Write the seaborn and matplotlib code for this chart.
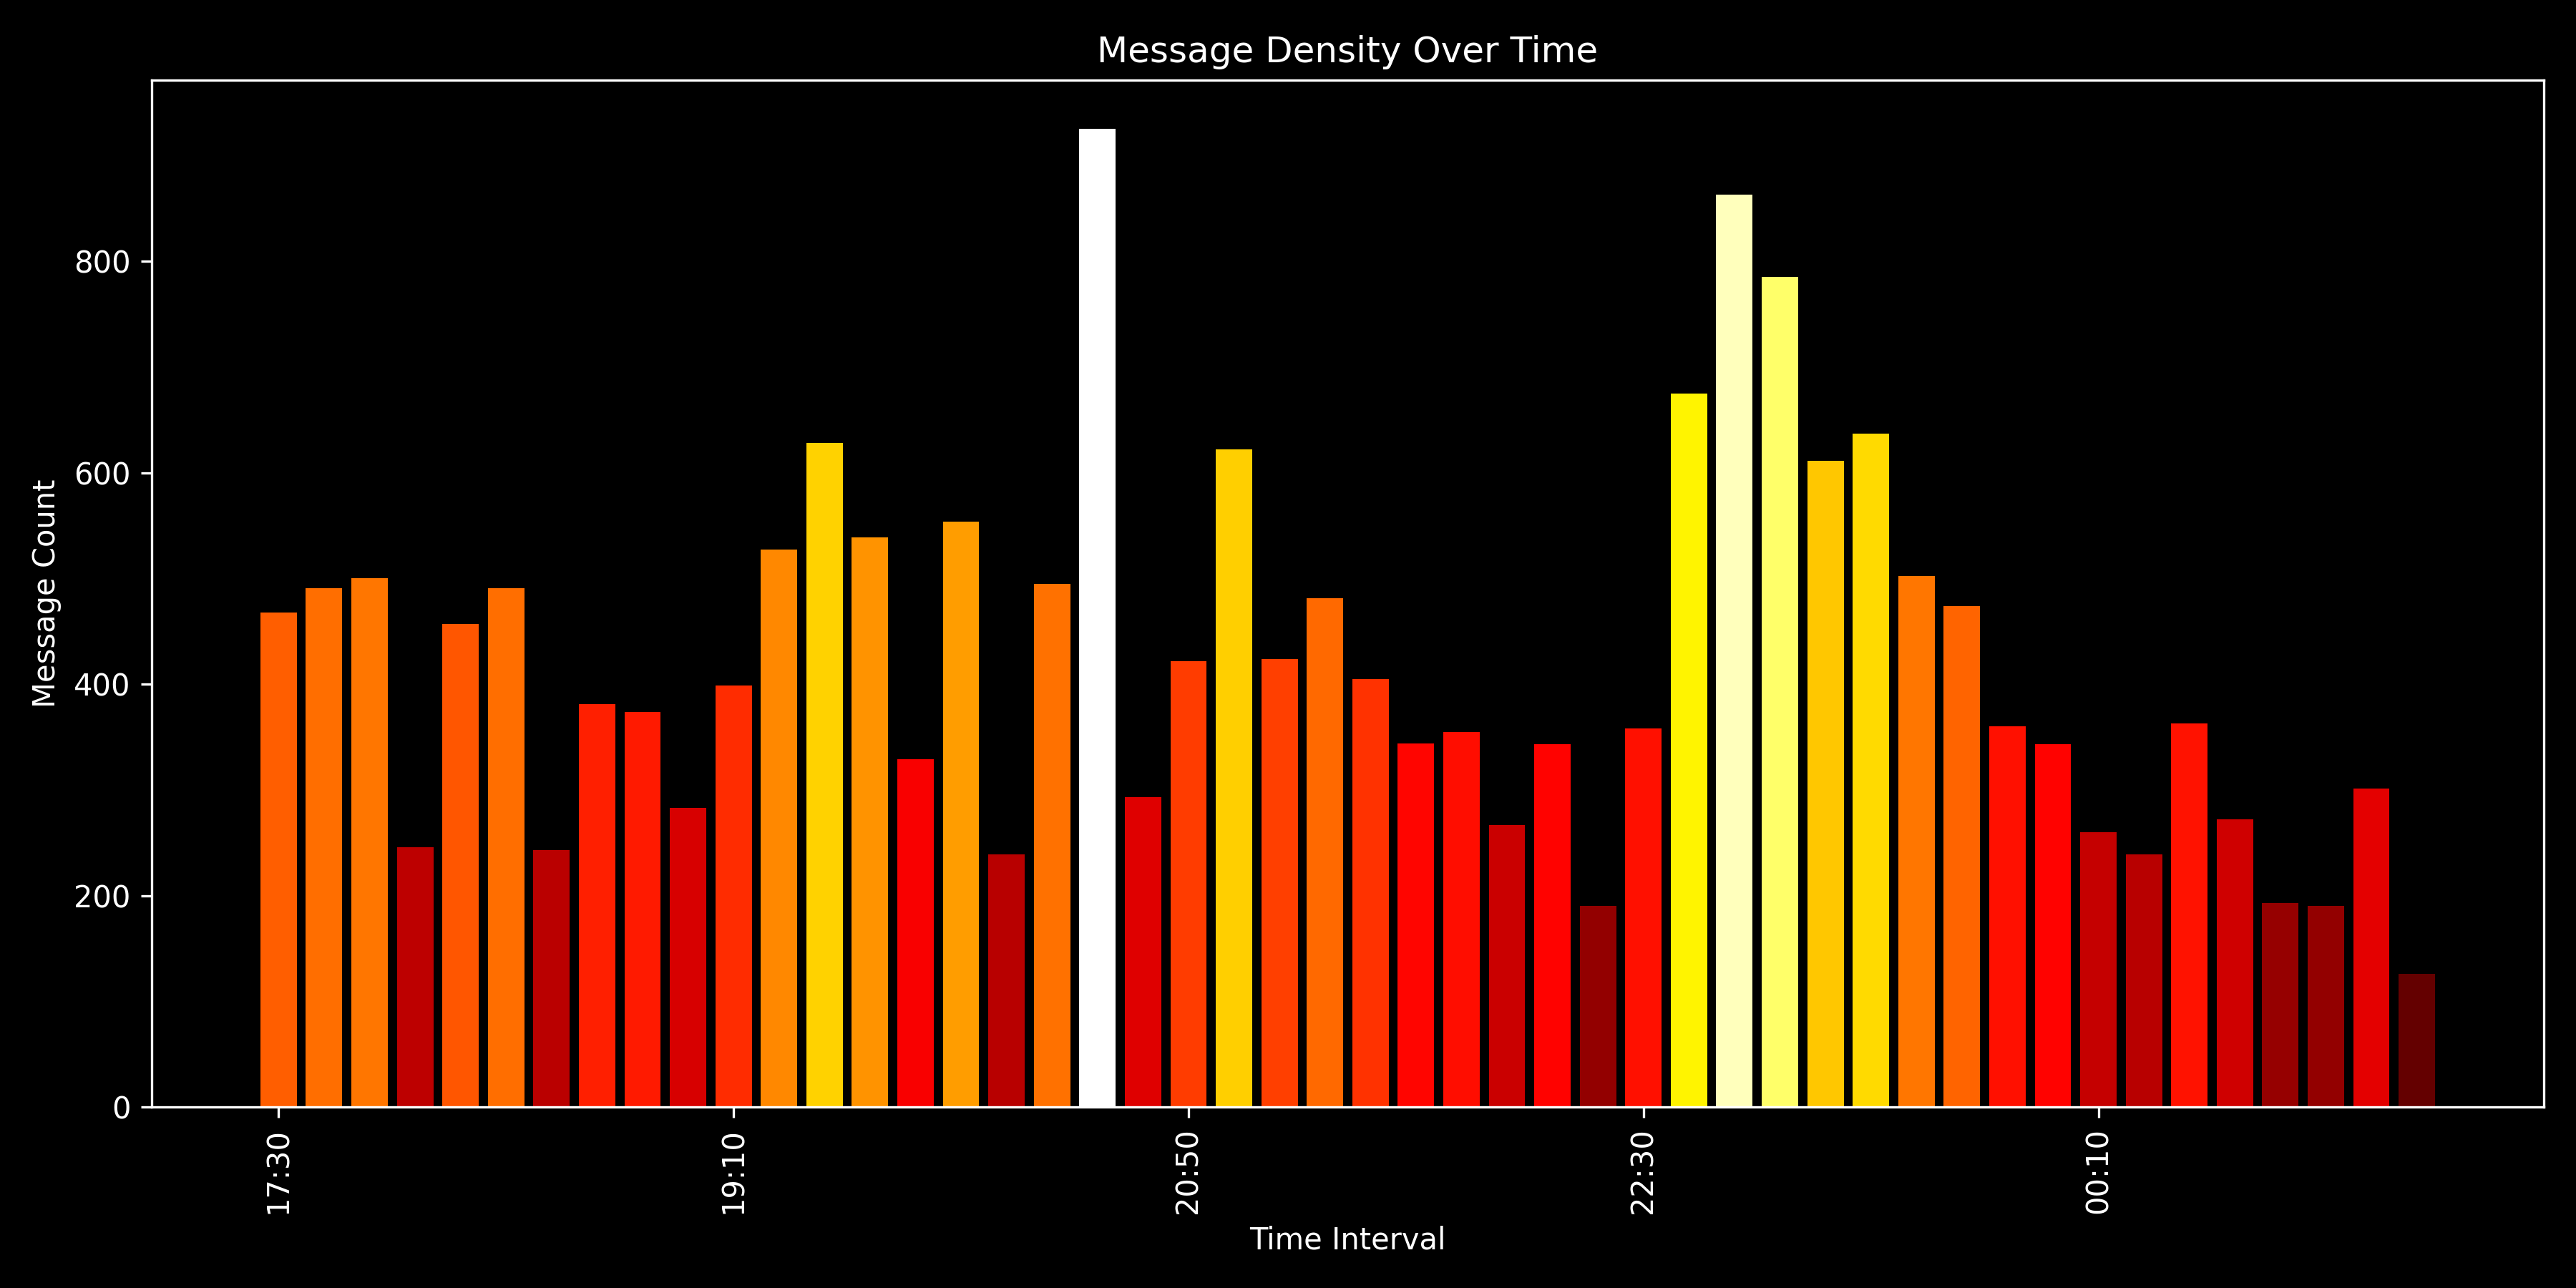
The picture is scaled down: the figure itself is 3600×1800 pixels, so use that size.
import numpy as np
import pandas as pd
import matplotlib.pyplot as plt
import seaborn as sns

# 10-minute intervals from 17:30 to 01:20
intervals = pd.date_range("2024-01-01 17:30", periods=48, freq="10min").strftime("%H:%M").tolist()
counts = [468, 491, 500, 246, 457, 491, 243, 381, 374, 283,
          399, 527, 628, 539, 329, 554, 239, 495, 925, 293,
          422, 622, 424, 481, 405, 344, 355, 267, 343, 190,
          358, 675, 863, 785, 611, 637, 502, 474, 360, 343,
          260, 239, 363, 272, 193, 190, 301, 126]

plt.style.use("dark_background")
colors = plt.cm.hot(np.array(counts) / max(counts))
palette = dict(zip(intervals, colors))

fig, ax = plt.subplots(figsize=(12, 6))
sns.barplot(x=intervals, y=counts, hue=intervals, palette=palette,
            legend=False, width=0.8, saturation=1, ax=ax)

n = len(counts)
pad = 0.05 * (n - 0.2)
ax.set_xlim(-0.4 - pad, n - 0.6 + pad)
ax.set_xticks(range(0, n, 10))
ax.set_xticklabels(intervals[::10], rotation=90)
ax.set_title("Message Density Over Time")
ax.set_xlabel("Time Interval")
ax.set_ylabel("Message Count")
plt.tight_layout()
plt.savefig("out.png", dpi=300)
